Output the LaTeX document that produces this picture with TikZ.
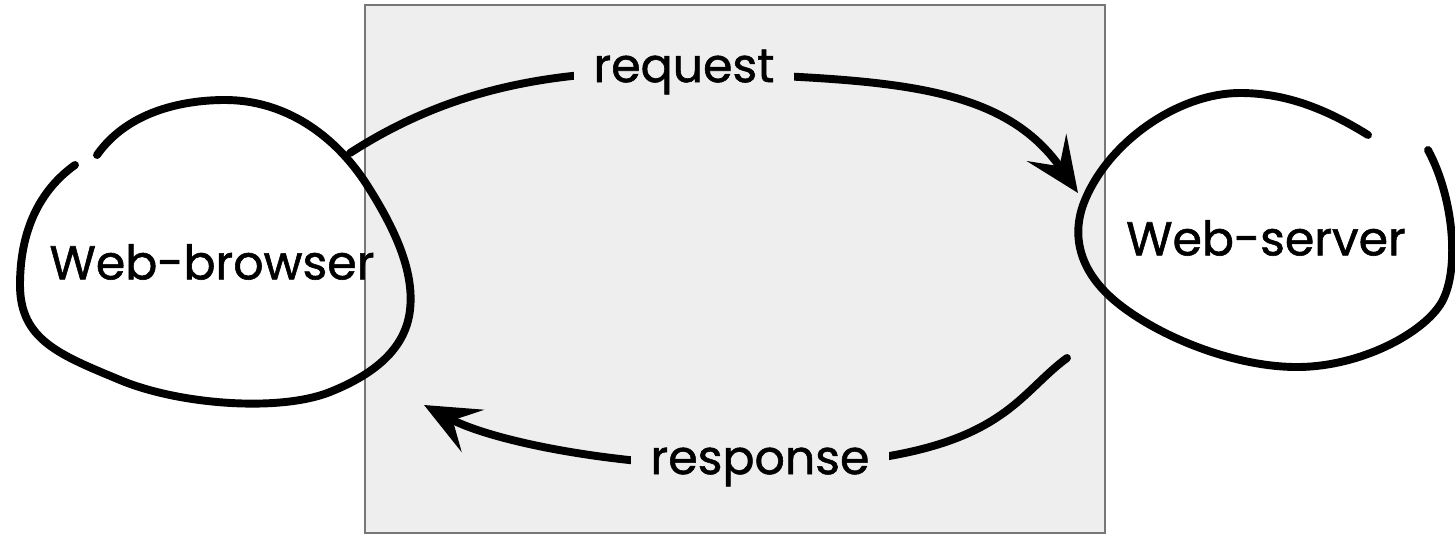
\documentclass[tikz,border=0pt]{standalone}
\usepackage{fontspec}
\setmainfont{Poppins}[FakeBold=1.2]
\usetikzlibrary{arrows.meta,positioning}
\definecolor{boxgray}{RGB}{238,238,238}
\definecolor{edgegray}{RGB}{119,119,119}
\tikzstyle{blob} = [line width=4.5pt, line cap=round, black]
\tikzstyle{conn} = [line width=4.5pt, line cap=round, -{Stealth[length=1.1cm,width=0.95cm,inset=0.45cm]}]
\tikzstyle{tag} = [fill=boxgray, inner xsep=0.4cm, inner ysep=0.15cm, font=\fontsize{27}{32}\selectfont]
\tikzstyle{agent} = [font=\fontsize{27}{32}\selectfont]

\begin{document}
\begin{tikzpicture}[x=0.02cm, y=-0.02cm]
\useasboundingbox (0,0) rectangle (1455,534);

% Network box in the middle
\draw[fill=boxgray, draw=edgegray, line width=1.2pt] (365,5) rectangle (1105,533);

% Browser at left
\draw[blob] (97,155) .. controls (130,108) and (190,100) .. (225,100)
  .. controls (285,100) and (335,135) .. (367,185)
  .. controls (399,235) and (414,275) .. (410,310)
  .. controls (406,345) and (380,372) .. (330,392)
  .. controls (280,412) and (180,405) .. (120,380)
  .. controls (60,355) and (20,340) .. (20,285)
  .. controls (20,230) and (40,190) .. (75,165);
\node (browser) [agent] at (212,262) {Web-browser};

% Server at right
\draw[blob] (1368,135) .. controls (1320,105) and (1280,93) .. (1240,93)
  .. controls (1180,93) and (1110,140) .. (1085,200)
  .. controls (1072,231) and (1075,270) .. (1120,305)
  .. controls (1165,340) and (1240,368) .. (1300,367)
  .. controls (1360,366) and (1420,335) .. (1440,305)
  .. controls (1460,275) and (1455,200) .. (1428,150);
\node (server) [agent] at (1266,238) {Web-server};

% Connections
\coordinate (req-start) at (350,153);
\coordinate (req-end) at (1078,193);
\coordinate (res-start) at (1067,358);
\coordinate (res-end) at (424,405);
\draw[conn] (req-start) .. controls (440,95) and (540,68) .. (684,72) node[tag] (request) {request} .. controls (880,80) and (1000,80) .. (req-end);
\draw[conn] (res-start) .. controls (1010,400) and (1000,462) .. (760,467) node[tag] (response) {response} .. controls (610,467) and (490,440) .. (res-end);
\end{tikzpicture}
\end{document}
